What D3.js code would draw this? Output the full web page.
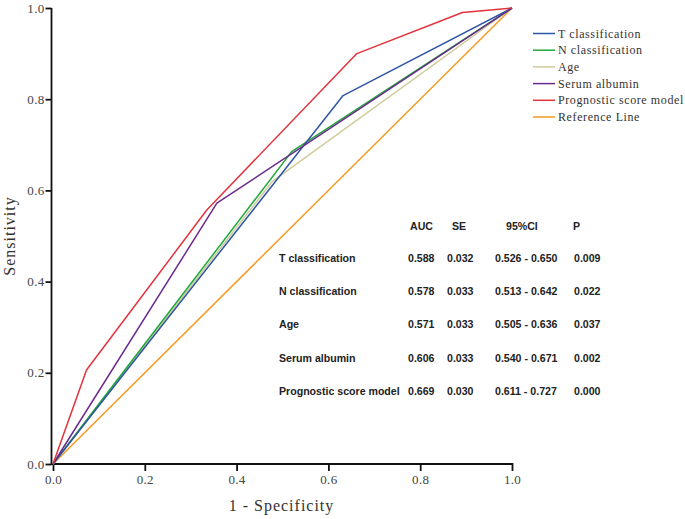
<!DOCTYPE html>
<html><head><meta charset="utf-8">
<script src="https://cdn.jsdelivr.net/npm/d3@7"></script>
<style>body{margin:0;background:#fff}svg{display:block}</style>
</head><body>
<svg id="chart" width="685" height="519"></svg>
<script>
// ---- data ----
const seriesNames = ["T classification","N classification","Age","Serum albumin","Prognostic score model","Reference Line"];
const seriesColors = ["#2f55a6","#1fa83a","#cfcc9c","#6b2a8c","#e2323c","#f59a22"];
const tClassPts = [[0,0],[0.632,0.808],[1,1]];
const nClassPts = [[0,0],[0.520,0.685],[1,1]];
const agePts = [[0,0],[0.478,0.620],[1,1]];
const albuminPts = [[0,0],[0.357,0.572],[1,1]];
const prognosticPts = [[0,0],[0.073,0.206],[0.335,0.557],[0.662,0.900],[0.892,0.990],[1,1]];
const referencePts = [[0,0],[1,1]];
const allSeries = [tClassPts,nClassPts,agePts,albuminPts,prognosticPts,referencePts];
const drawOrder = [5,2,1,0,3,4];
const ticks = [0,0.2,0.4,0.6,0.8,1.0];

const tableHeader = ["AUC","SE","95%CI","P"];
const tableRows = ["T classification","N classification","Age","Serum albumin","Prognostic score model"];
const aucVals = ["0.588","0.578","0.571","0.606","0.669"];
const seVals = ["0.032","0.033","0.033","0.033","0.030"];
const ciVals = ["0.526 - 0.650","0.513 - 0.642","0.505 - 0.636","0.540 - 0.671","0.611 - 0.727"];
const pVals = ["0.009","0.022","0.037","0.002","0.000"];

// ---- drawing ----
const svg = d3.select("#chart");
const x = d3.scaleLinear().domain([0,1]).range([53,512]);
const y = d3.scaleLinear().domain([0,1]).range([464,8]);
const serif = "'Liberation Serif','DejaVu Serif',serif";

// axes
const yAxis = svg.append("g").attr("transform","translate(51.5,0)")
  .call(d3.axisLeft(y).tickValues(ticks).tickFormat(d3.format(".1f")).tickSize(6).tickPadding(1));
const xAxis = svg.append("g").attr("transform","translate(0,464)")
  .call(d3.axisBottom(x).tickValues(ticks).tickFormat(d3.format(".1f")).tickSize(7).tickPadding(4));
[yAxis,xAxis].forEach(g=>{
  g.select(".domain").remove();
  g.selectAll(".tick line").attr("stroke","#111").attr("stroke-width",1.8);
  g.selectAll(".tick text").attr("font-family",serif).attr("font-size",13).attr("fill","#444")
   .attr("letter-spacing","0.3px");
});
xAxis.selectAll(".tick line").attr("y1",-1);
svg.append("line").attr("x1",51.5).attr("x2",51.5).attr("y1",y(1)).attr("y2",y(0)+0.9)
  .attr("stroke","#111").attr("stroke-width",1.8);
svg.append("line").attr("x1",51.5).attr("x2",x(1)+0.5).attr("y1",y(0)).attr("y2",y(0))
  .attr("stroke","#111").attr("stroke-width",1.8);

// axis titles
svg.append("text").attr("x",(x(0)+x(1))/2 - 1).attr("y",511).attr("text-anchor","middle")
  .attr("font-family",serif).attr("font-size",16).attr("letter-spacing","1px").attr("fill","#333")
  .text("1 - Specificity");
svg.append("text").attr("transform",`translate(15,${(y(0)+y(1))/2})rotate(-90)`).attr("text-anchor","middle")
  .attr("font-family",serif).attr("font-size",16).attr("letter-spacing","1px").attr("fill","#333")
  .text("Sensitivity");

// curves
const line = d3.line().x(d=>x(d[0])).y(d=>y(d[1]));
drawOrder.forEach(i=>{
  svg.append("path").datum(allSeries[i]).attr("d",line).attr("fill","none")
    .attr("stroke",seriesColors[i]).attr("stroke-width",1.5).attr("stroke-linejoin","round");
});

// legend
const leg = svg.append("g").attr("transform","translate(533,33.5)");
seriesNames.forEach((n,i)=>{
  const g = leg.append("g").attr("transform",`translate(0,${i*16.7})`);
  g.append("line").attr("x1",0).attr("x2",22).attr("y1",0).attr("y2",0)
    .attr("stroke",seriesColors[i]).attr("stroke-width",1.5);
  g.append("text").attr("x",25).attr("y",4).attr("font-family",serif).attr("font-size",12)
    .attr("fill","#333").attr("letter-spacing","0.6px").text(n);
});

// table
const tbl = svg.append("g").attr("font-family","'Liberation Sans',Arial,sans-serif")
  .attr("font-size",10.6).attr("font-weight","bold").attr("fill","#222");
const colX = [408,447,495,574];
const headX = [410,452,506,573];
tableHeader.forEach((h,j)=>{
  tbl.append("text").attr("x",headX[j]).attr("y",229.5).text(h);
});
tableRows.forEach((r,i)=>{
  const yy = 262 + i*33.2;
  tbl.append("text").attr("x",279).attr("y",yy).text(r);
  [aucVals[i],seVals[i],ciVals[i],pVals[i]].forEach((v,j)=>{
    tbl.append("text").attr("x",colX[j]).attr("y",yy).text(v);
  });
});
</script>
</body></html>
